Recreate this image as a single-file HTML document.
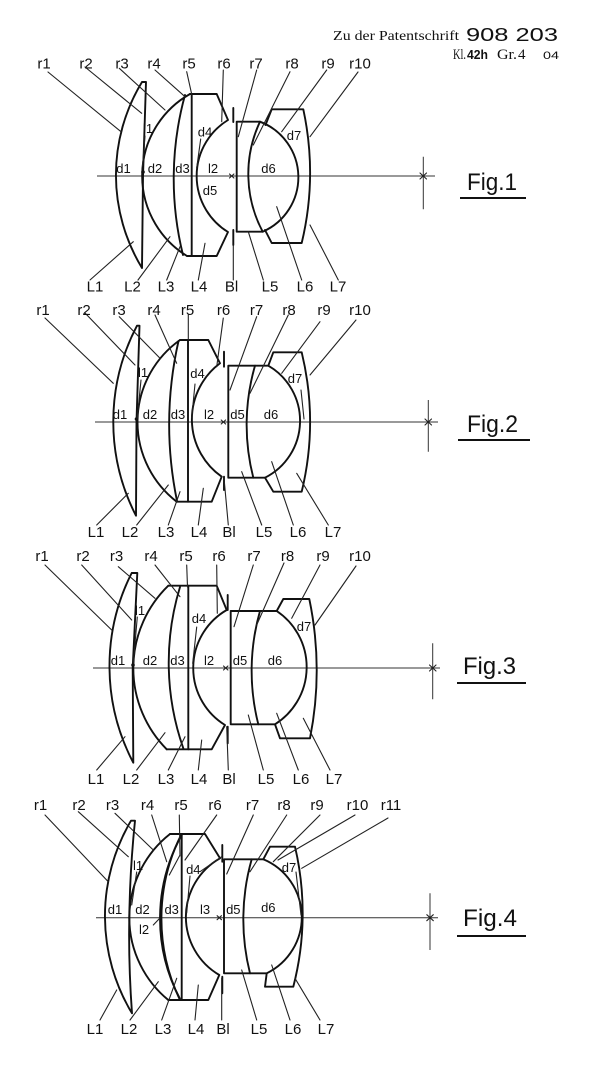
<!DOCTYPE html>
<html>
<head>
<meta charset="utf-8">
<style>
html,body{margin:0;padding:0;background:#fff;}
svg{display:block;}
.lens{fill:none;stroke:#111;stroke-width:1.9;stroke-linejoin:round;stroke-linecap:round;}
.ld{fill:none;stroke:#222;stroke-width:1.1;stroke-linecap:round;}
.ax{fill:none;stroke:#333;stroke-width:1;}
.lb{font-family:"Liberation Sans",sans-serif;font-size:15px;fill:#111;text-anchor:middle;}
.il{font-family:"Liberation Sans",sans-serif;font-size:13px;fill:#111;text-anchor:middle;}
.fig{font-family:"Liberation Sans",sans-serif;font-size:24px;fill:#111;}
.ser{font-family:"Liberation Serif",serif;fill:#111;}
.sans{font-family:"Liberation Sans",sans-serif;fill:#111;}
</style>
</head>
<body>
<svg width="600" height="1078" viewBox="0 0 600 1078" xmlns="http://www.w3.org/2000/svg">
<rect width="600" height="1078" fill="#fff"/>

<!-- Header -->
<text class="ser" x="333" y="40" font-size="14" textLength="126" lengthAdjust="spacingAndGlyphs">Zu der Patentschrift</text>
<text class="sans" x="466" y="41" font-size="18" textLength="92" lengthAdjust="spacingAndGlyphs">908 203</text>
<text class="ser" x="453" y="59" font-size="15" textLength="13" lengthAdjust="spacingAndGlyphs">Kl.</text>
<text class="sans" x="467" y="59" font-size="13" font-weight="bold" textLength="21" lengthAdjust="spacingAndGlyphs">42h</text>
<text class="ser" x="497" y="59" font-size="15" textLength="20" lengthAdjust="spacingAndGlyphs">Gr.</text>
<text class="ser" x="518" y="59" font-size="15">4</text>
<text class="sans" x="543" y="59" font-size="11" textLength="16" lengthAdjust="spacingAndGlyphs">04</text>

<!-- ================= FIG 1 ================= -->
<g>
<path class="ax" d="M97,176 L435,176 M423.3,156.7 L423.3,209.3"/>
<path class="ld" d="M420,173 L426.5,179 M426.5,173 L420,179"/>
<path class="ld" d="M229.5,174 L233.9,178 M233.9,174 L229.5,178"/>

<path class="lens" d="M142,82 L146,82 L143,176 L142,268 A179,179 0 0 1 142,82 Z"/>
<path class="lens" d="M190,94 A94,94 0 0 0 187,256"/>
<path class="lens" d="M185,95 A317,317 0 0 0 183,255"/>
<path class="lens" d="M191.7,94 L191.7,256"/>
<path class="lens" d="M190,94 L216.7,94 L228,120 A65.7,65.7 0 0 0 228,232 L216.7,256 L187,256"/>
<path class="lens" d="M233.3,108 L233.3,122 M233.3,230 L233.3,245"/>
<path class="lens" d="M236.7,121.7 L260,121.7 A122.8,122.8 0 0 0 262.7,231.7 L236.7,231.7 Z"/>
<path class="lens" d="M260,121.7 A59.4,59.4 0 0 1 262.7,231.7"/>
<path class="lens" d="M265.5,125 L271.7,109.3 L303.3,109.3 A302,302 0 0 1 301.7,243 L271.7,243 L265,230"/>
<circle cx="143" cy="172" r="1.8" fill="#111"/>

<g class="ld">
<path d="M48,72 L121,131.7"/>
<path d="M85,67 L141.7,113.3"/>
<path d="M119.3,68.3 L165,110"/>
<path d="M155,70 L185,96.7"/>
<path d="M186.7,71.7 L191.7,94.3"/>
<path d="M223.3,70 L221.7,121.7"/>
<path d="M256.7,70 L238.3,136.7"/>
<path d="M290,71.7 L253.3,145"/>
<path d="M326.7,70 L281.7,131.7"/>
<path d="M358,72 L310,136.7"/>
<path d="M90,280 L133.3,241.7"/>
<path d="M138,280 L170,236.7"/>
<path d="M166.7,280 L180,246.7"/>
<path d="M198.3,280 L205,243.3"/>
<path d="M233.3,280 L233.3,245"/>
<path d="M263.3,280 L248.3,231.7"/>
<path d="M301.7,280 L276.7,206.7"/>
<path d="M338.3,280 L310,225"/>
<path d="M145,136 L142.5,166"/>
<path d="M200.7,139 L196.7,168"/>
</g>

<text class="lb" x="44" y="68.5">r1</text>
<text class="lb" x="86" y="68.5">r2</text>
<text class="lb" x="122" y="68.5">r3</text>
<text class="lb" x="154" y="68.5">r4</text>
<text class="lb" x="189" y="68.5">r5</text>
<text class="lb" x="224" y="68.5">r6</text>
<text class="lb" x="256" y="68.5">r7</text>
<text class="lb" x="292" y="68.5">r8</text>
<text class="lb" x="328" y="68.5">r9</text>
<text class="lb" x="360" y="68.5">r10</text>

<text class="lb" x="95" y="291.5">L1</text>
<text class="lb" x="132.5" y="291.5">L2</text>
<text class="lb" x="166" y="291.5">L3</text>
<text class="lb" x="199" y="291.5">L4</text>
<text class="lb" x="231.5" y="291.5">Bl</text>
<text class="lb" x="270" y="291.5">L5</text>
<text class="lb" x="305" y="291.5">L6</text>
<text class="lb" x="338" y="291.5">L7</text>

<text class="il" x="148" y="133">l1</text>
<text class="il" x="123.5" y="173">d1</text>
<text class="il" x="155" y="173">d2</text>
<text class="il" x="182.5" y="173">d3</text>
<text class="il" x="205" y="136.5">d4</text>
<text class="il" x="213" y="173">l2</text>
<text class="il" x="210" y="195">d5</text>
<text class="il" x="268.5" y="173">d6</text>
<text class="il" x="294" y="140">d7</text>

<text class="fig" x="467" y="190" textLength="50" lengthAdjust="spacingAndGlyphs">Fig.1</text>
<path d="M460,198 L526,198" stroke="#111" stroke-width="2"/>
</g>

<!-- ================= FIG 2 ================= -->
<g>
<path class="ax" d="M95,422 L438,422 M428.3,400 L428.3,451.7"/>
<path class="ld" d="M425,419 L431.5,425 M431.5,419 L425,425"/>
<path class="ld" d="M221.2,420 L225.6,424 M225.6,420 L221.2,424"/>

<path class="lens" d="M137,325.7 L139.5,325.7 L136.5,421.7 L136,515.7 A206,206 0 0 1 137,325.7 Z"/>
<path class="lens" d="M180,340 A100.5,100.5 0 0 0 176.7,501.7"/>
<path class="lens" d="M178.5,341 A381,381 0 0 0 177,501"/>
<path class="lens" d="M188,340 L188,501.7"/>
<path class="lens" d="M180,340 L208.3,340 L220,363.3 A70,70 0 0 0 221.7,476.7 L211.7,501.7 L176.7,501.7"/>
<path class="lens" d="M224,351.7 L224,366.7 M224,476.7 L224,490"/>
<path class="lens" d="M228.3,365.7 L255,365.7 A213,213 0 0 0 253.3,477.7 L228.3,477.7 Z"/>
<path class="lens" d="M255,365.7 L268.3,365.7 A63.7,63.7 0 0 1 265,477.7 L253.3,477.7"/>
<path class="lens" d="M268.3,365.7 L273.3,352.3 L301.7,352.3 A297,297 0 0 1 301.7,491.7 L273.3,491.7 L265,477.7"/>
<circle cx="136.5" cy="419" r="1.8" fill="#111"/>

<g class="ld">
<path d="M45,318 L113.3,383.3"/>
<path d="M85,313 L135,365"/>
<path d="M119.3,316.7 L160,358.3"/>
<path d="M155,315 L176.7,363.3"/>
<path d="M188.3,315 L188.3,340"/>
<path d="M223.3,318 L216.7,366.7"/>
<path d="M256.7,316.7 L230,390"/>
<path d="M288.3,315 L250,393.3"/>
<path d="M320,321.7 L281.7,373.3"/>
<path d="M356,320 L310,375"/>
<path d="M96.7,525 L128.3,493.3"/>
<path d="M136.7,525 L168.3,485"/>
<path d="M168.3,525 L180,491.7"/>
<path d="M198.3,525 L203.3,488.3"/>
<path d="M228.3,525 L224,478"/>
<path d="M261.7,525 L241.7,471.7"/>
<path d="M293.3,525 L271.7,461.7"/>
<path d="M328.3,525 L296.7,473.3"/>
<path d="M141,380 L137.3,418"/>
<path d="M195,384 L191.7,418"/>
<path d="M301,390 L304,419"/>
</g>

<text class="lb" x="43" y="315">r1</text>
<text class="lb" x="84" y="315">r2</text>
<text class="lb" x="119" y="315">r3</text>
<text class="lb" x="154" y="315">r4</text>
<text class="lb" x="187.5" y="315">r5</text>
<text class="lb" x="223.5" y="315">r6</text>
<text class="lb" x="256.5" y="315">r7</text>
<text class="lb" x="289" y="315">r8</text>
<text class="lb" x="324" y="315">r9</text>
<text class="lb" x="360" y="315">r10</text>

<text class="lb" x="96" y="537">L1</text>
<text class="lb" x="130" y="537">L2</text>
<text class="lb" x="166" y="537">L3</text>
<text class="lb" x="199" y="537">L4</text>
<text class="lb" x="229" y="537">Bl</text>
<text class="lb" x="264" y="537">L5</text>
<text class="lb" x="298" y="537">L6</text>
<text class="lb" x="333" y="537">L7</text>

<text class="il" x="143" y="377">l1</text>
<text class="il" x="120" y="419">d1</text>
<text class="il" x="150" y="419">d2</text>
<text class="il" x="178" y="419">d3</text>
<text class="il" x="197.5" y="378">d4</text>
<text class="il" x="209" y="419">l2</text>
<text class="il" x="237.5" y="419">d5</text>
<text class="il" x="271" y="419">d6</text>
<text class="il" x="295" y="383">d7</text>

<text class="fig" x="467" y="432" textLength="51" lengthAdjust="spacingAndGlyphs">Fig.2</text>
<path d="M458,440 L530,440" stroke="#111" stroke-width="2"/>
</g>

<!-- ================= FIG 3 ================= -->
<g>
<path class="ax" d="M93,668 L440,668 M432.7,643.3 L432.7,699.3"/>
<path class="ld" d="M429.5,665 L436,671 M436,665 L429.5,671"/>
<path class="ld" d="M223.5,666 L227.9,670 M227.9,666 L223.5,670"/>

<path class="lens" d="M131.7,573 L137.3,573 L132.7,668 L133.3,762.7 A207,207 0 0 1 131.7,573 Z"/>
<path class="lens" d="M168.3,585.7 A115,115 0 0 0 166.7,749.3"/>
<path class="lens" d="M180,587 A259,259 0 0 0 183.3,748.3"/>
<path class="lens" d="M188.3,585.7 L188.3,749.3"/>
<path class="lens" d="M168.3,585.7 L216.7,585.7 L226.7,610 A67,67 0 0 0 225,725 L211.7,749.3 L166.7,749.3"/>
<path class="lens" d="M227.7,595 L227.7,610 M227.7,726.7 L227.7,743.3"/>
<path class="lens" d="M230.7,611 L260,611 A218,218 0 0 0 258.3,724.3 L230.7,724.3 Z"/>
<path class="lens" d="M260,611 L276.7,611 A67.5,67.5 0 0 1 275,724.3 L258.3,724.3"/>
<path class="lens" d="M276.7,611 L283.3,599 L309.3,599 A350,350 0 0 1 310,738.3 L280,738.3 L275,724.3"/>
<circle cx="133" cy="665" r="1.8" fill="#111"/>

<g class="ld">
<path d="M45,565 L111.7,630"/>
<path d="M81.7,565 L131.7,620"/>
<path d="M118.3,566.7 L155,598.3"/>
<path d="M155,565 L180,596.7"/>
<path d="M186.7,565 L187.5,587"/>
<path d="M216.7,565 L217.3,613.3"/>
<path d="M253.3,565 L234,626.7"/>
<path d="M284,563 L256.7,625"/>
<path d="M320,565 L291.7,618.3"/>
<path d="M356,566 L315,625"/>
<path d="M96.7,770 L125,736.7"/>
<path d="M136.7,770 L165,732.7"/>
<path d="M168.3,770 L185,736.7"/>
<path d="M198.3,770 L201.7,740"/>
<path d="M228.3,770 L226.7,726.7"/>
<path d="M263.3,770 L248.3,715"/>
<path d="M298.3,770 L276.7,713.3"/>
<path d="M330,770 L303.3,718.3"/>
<path d="M137.3,617 L133.3,663.3"/>
<path d="M196.7,627 L192.7,663.3"/>
</g>

<text class="lb" x="42" y="561">r1</text>
<text class="lb" x="83" y="561">r2</text>
<text class="lb" x="116.5" y="561">r3</text>
<text class="lb" x="151" y="561">r4</text>
<text class="lb" x="186" y="561">r5</text>
<text class="lb" x="219" y="561">r6</text>
<text class="lb" x="254" y="561">r7</text>
<text class="lb" x="287.5" y="561">r8</text>
<text class="lb" x="323" y="561">r9</text>
<text class="lb" x="360" y="561">r10</text>

<text class="lb" x="96" y="784">L1</text>
<text class="lb" x="131" y="784">L2</text>
<text class="lb" x="166" y="784">L3</text>
<text class="lb" x="199" y="784">L4</text>
<text class="lb" x="229" y="784">Bl</text>
<text class="lb" x="266" y="784">L5</text>
<text class="lb" x="301" y="784">L6</text>
<text class="lb" x="334" y="784">L7</text>

<text class="il" x="140" y="615">l1</text>
<text class="il" x="118" y="665">d1</text>
<text class="il" x="150" y="665">d2</text>
<text class="il" x="177.5" y="665">d3</text>
<text class="il" x="199" y="623">d4</text>
<text class="il" x="209" y="665">l2</text>
<text class="il" x="240" y="665">d5</text>
<text class="il" x="275" y="665">d6</text>
<text class="il" x="304" y="631">d7</text>

<text class="fig" x="463" y="674" textLength="53" lengthAdjust="spacingAndGlyphs">Fig.3</text>
<path d="M457,683 L526,683" stroke="#111" stroke-width="2"/>
</g>

<!-- ================= FIG 4 ================= -->
<g>
<path class="ax" d="M96,917.7 L438,917.7 M430,893.3 L430,950"/>
<path class="ld" d="M426.8,914.7 L433.3,920.7 M433.3,914.7 L426.8,920.7"/>
<path class="ld" d="M217.1,915.7 L221.5,919.7 M221.5,915.7 L217.1,919.7"/>

<path class="lens" d="M131,820.7 L135,820.7 Q125,918 132,1013.3 A188,188 0 0 1 131,820.7 Z"/>
<path class="lens" d="M170,834 A106.4,106.4 0 0 0 168.3,1000"/>
<path class="lens" d="M181.7,835 A172,172 0 0 0 180,999"/>
<path class="lens" d="M181,835 A188,188 0 0 0 179.5,999"/>
<path class="lens" d="M181.7,834 L181.7,1000"/>
<path class="lens" d="M170,834 L205,834 L220,858.3 A67.3,67.3 0 0 0 219.3,975 L208.3,1000 L168.3,1000"/>
<path class="lens" d="M222.3,845 L222.3,861.7 M222.3,976.7 L222.3,993.3"/>
<path class="lens" d="M224,859.3 L251.7,859.3 A220,220 0 0 0 250,973.3 L224,973.3 Z"/>
<path class="lens" d="M251.7,859.3 L263.3,859.3 A62.6,62.6 0 0 1 266.7,973.3 L250,973.3"/>
<path class="lens" d="M263.3,859.3 L270,846.7 L295,846.7 A292.5,292.5 0 0 1 293.3,986.7 L265,986.7 L266.7,973.3"/>

<g class="ld">
<path d="M45,815 L108.3,881.7"/>
<path d="M78.3,811.7 L128.3,856.7"/>
<path d="M115,813.3 L153.3,850"/>
<path d="M151.7,815 L166.7,861.7"/>
<path d="M179.3,815 L180,856"/>
<path d="M180,855 L169.3,875"/>
<path d="M216.7,815 L185,860"/>
<path d="M253.3,815 L226.7,874"/>
<path d="M200,871.7 L221.7,856.7"/>
<path d="M286.7,815 L250,871.7"/>
<path d="M320,815 L273.3,861.7"/>
<path d="M355,815 L278,860"/>
<path d="M388,818 L301.7,868.3"/>
<path d="M100,1020 L116.7,990"/>
<path d="M130,1020 L158.3,981.7"/>
<path d="M161.7,1020 L176.7,978.3"/>
<path d="M195,1020 L198.3,985"/>
<path d="M221.7,1020 L221.7,978.3"/>
<path d="M256.7,1020 L241.7,970"/>
<path d="M290,1020 L271.7,965"/>
<path d="M320,1020 L295,978.3"/>
<path d="M136.7,872 L131.7,905"/>
<path d="M190,876 L186.7,913"/>
<path d="M153.3,925 L160,918"/>
<path d="M296,872 L301,915"/>
</g>

<text class="lb" x="40.5" y="810">r1</text>
<text class="lb" x="79" y="810">r2</text>
<text class="lb" x="112.5" y="810">r3</text>
<text class="lb" x="147.5" y="810">r4</text>
<text class="lb" x="181" y="810">r5</text>
<text class="lb" x="215" y="810">r6</text>
<text class="lb" x="252.5" y="810">r7</text>
<text class="lb" x="284" y="810">r8</text>
<text class="lb" x="317" y="810">r9</text>
<text class="lb" x="357.5" y="810">r10</text>
<text class="lb" x="391" y="810">r11</text>

<text class="lb" x="95" y="1034">L1</text>
<text class="lb" x="129" y="1034">L2</text>
<text class="lb" x="163" y="1034">L3</text>
<text class="lb" x="196" y="1034">L4</text>
<text class="lb" x="223" y="1034">Bl</text>
<text class="lb" x="259" y="1034">L5</text>
<text class="lb" x="293" y="1034">L6</text>
<text class="lb" x="326" y="1034">L7</text>

<text class="il" x="138" y="870">l1</text>
<text class="il" x="115" y="914">d1</text>
<text class="il" x="142.5" y="914">d2</text>
<text class="il" x="171.7" y="914">d3</text>
<text class="il" x="193.3" y="874">d4</text>
<text class="il" x="205" y="914">l3</text>
<text class="il" x="233.3" y="914">d5</text>
<text class="il" x="268.3" y="912">d6</text>
<text class="il" x="289" y="872">d7</text>
<text class="il" x="144" y="934">l2</text>

<text class="fig" x="463" y="926" textLength="54" lengthAdjust="spacingAndGlyphs">Fig.4</text>
<path d="M457,936 L526,936" stroke="#111" stroke-width="2"/>
</g>

</svg>
</body>
</html>
